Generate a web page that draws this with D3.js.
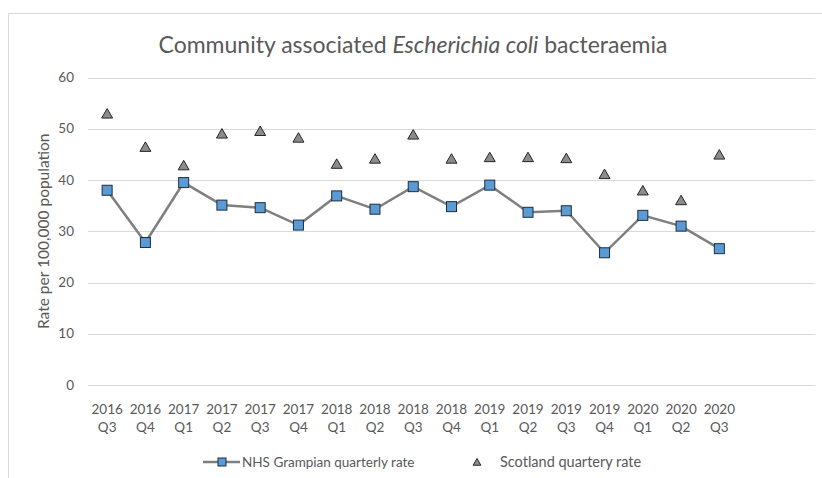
<!DOCTYPE html>
<html>
<head>
<meta charset="utf-8">
<script src="https://cdn.jsdelivr.net/npm/d3@7"></script>
<style>
  html, body { margin: 0; padding: 0; background: #fff; }
  svg { display: block; font-family: Lato, "Open Sans", sans-serif; }
</style>
</head>
<body>
<svg id="chart" width="822" height="478"></svg>
<script>
const categories = ["2016 Q3","2016 Q4","2017 Q1","2017 Q2","2017 Q3","2017 Q4","2018 Q1","2018 Q2","2018 Q3","2018 Q4","2019 Q1","2019 Q2","2019 Q3","2019 Q4","2020 Q1","2020 Q2","2020 Q3"];
const emptySlots = ["", " "];
const grampian = [38.0, 27.8, 39.5, 35.1, 34.6, 31.2, 36.9, 34.3, 38.7, 34.8, 39.0, 33.7, 34.0, 25.8, 33.1, 31.0, 26.6];
const scotland = [52.7, 46.2, 42.6, 48.8, 49.3, 48.0, 42.9, 43.9, 48.6, 43.9, 44.2, 44.2, 44.0, 40.9, 37.7, 35.8, 44.7];
const yTicks = [0, 10, 20, 30, 40, 50, 60];
const seriesNames = ["NHS Grampian quarterly rate", "Scotland quartery rate"];

const svg = d3.select("#chart");
const textColor = "#595959";
const margin = { left: 88, right: 815, top: 77.5, bottom: 385 };

// frame
svg.append("rect").attr("x", 8.5).attr("y", 13.5).attr("width", 830).attr("height", 480)
  .attr("fill", "none").attr("stroke", "#d9d9d9").attr("stroke-width", 1);

const x = d3.scaleBand().domain(categories.concat(emptySlots)).range([margin.left, margin.right]);
const y = d3.scaleLinear().domain([0, 60]).range([margin.bottom, margin.top]);

// gridlines
svg.append("g").selectAll("line").data(yTicks).join("line")
  .attr("x1", margin.left).attr("x2", margin.right)
  .attr("y1", d => Math.round(y(d)) + 0.5).attr("y2", d => Math.round(y(d)) + 0.5)
  .attr("stroke", "#d9d9d9").attr("stroke-width", 1);

// y tick labels
svg.append("g").selectAll("text").data(yTicks).join("text")
  .attr("x", 74).attr("y", d => y(d)).attr("dy", "0.35em")
  .attr("text-anchor", "end").attr("fill", textColor).attr("font-size", 13.5)
  .text(d => d);

// x tick labels
const xl = svg.append("g").selectAll("text").data(categories).join("text")
  .attr("text-anchor", "middle").attr("fill", textColor).attr("font-size", 13.5)
  .attr("transform", d => `translate(${x(d) + x.bandwidth() / 2},0)`);
xl.append("tspan").attr("x", 0).attr("y", 414).text(d => d.split(" ")[0]);
xl.append("tspan").attr("x", 0).attr("y", 432).text(d => d.split(" ")[1]);

// y axis title
svg.append("text").attr("transform", `translate(49,${(y(0) + y(60)) / 2}) rotate(-90)`)
  .attr("text-anchor", "middle").attr("fill", textColor).attr("font-size", 15.5)
  .text("Rate per 100,000 population");

// title
const title = svg.append("text").attr("x", 413).attr("y", 53).attr("text-anchor", "middle")
  .attr("fill", textColor).attr("font-size", 23);
title.append("tspan").text("Community associated ");
title.append("tspan").attr("font-style", "italic").text("Escherichia coli");
title.append("tspan").text(" bacteraemia");

const cx = (d, i) => x(categories[i]) + x.bandwidth() / 2;

// Grampian line
const line = d3.line().x((d, i) => cx(d, i)).y(d => y(d));
svg.append("path").datum(grampian).attr("d", line)
  .attr("fill", "none").attr("stroke", "#7f7f7f").attr("stroke-width", 2.5);

const sq = 10;
svg.append("g").selectAll("rect").data(grampian).join("rect")
  .attr("x", (d, i) => cx(d, i) - sq / 2).attr("y", d => y(d) - sq / 2)
  .attr("width", sq).attr("height", sq)
  .attr("fill", "#5b9bd5").attr("stroke", "#1f2d3d").attr("stroke-width", 1);

// Scotland triangles
const tri = d3.symbol().type(d3.symbolTriangle).size(52);
svg.append("g").selectAll("path").data(scotland).join("path")
  .attr("d", tri)
  .attr("transform", (d, i) => `translate(${cx(d, i)},${y(d)})`)
  .attr("fill", "#8c8c8c").attr("stroke", "#262626").attr("stroke-width", 1);

// legend
const ly = 462;
const lg = svg.append("g");
lg.append("line").attr("x1", 203).attr("x2", 240).attr("y1", ly).attr("y2", ly)
  .attr("stroke", "#7f7f7f").attr("stroke-width", 2.5);
lg.append("rect").attr("x", 218).attr("y", ly - 4).attr("width", 8).attr("height", 8)
  .attr("fill", "#5b9bd5").attr("stroke", "#1f2d3d").attr("stroke-width", 1);
lg.append("text").attr("x", 242).attr("y", ly).attr("dy", "0.35em")
  .attr("fill", textColor).attr("font-size", 13.5).text(seriesNames[0]);
lg.append("path").attr("d", d3.symbol().type(d3.symbolTriangle).size(26))
  .attr("transform", `translate(477,${ly + 1})`)
  .attr("fill", "#8c8c8c").attr("stroke", "#262626").attr("stroke-width", 1);
lg.append("text").attr("x", 500).attr("y", ly).attr("dy", "0.35em")
  .attr("fill", textColor).attr("font-size", 14.5).text(seriesNames[1]);
</script>
</body>
</html>
